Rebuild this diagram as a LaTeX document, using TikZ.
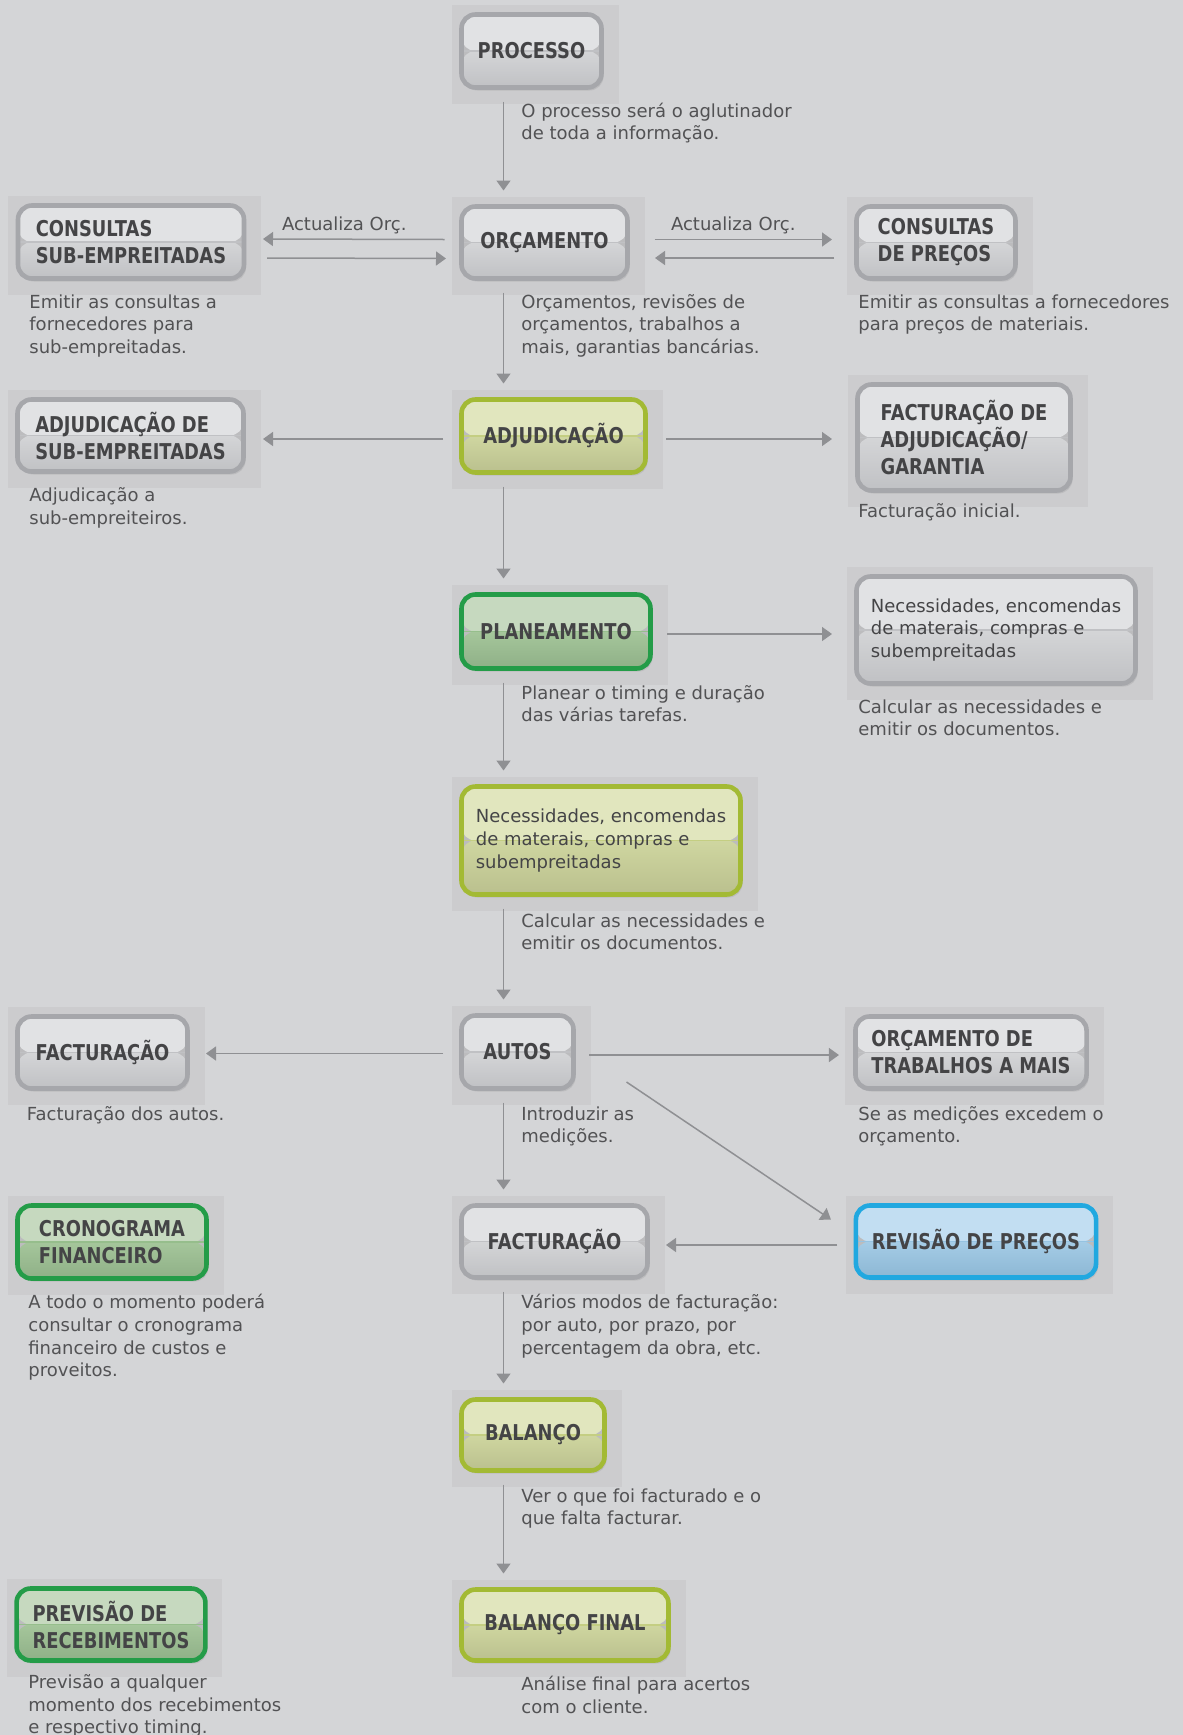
\documentclass[tikz,border=0pt]{standalone}
\usepackage{fontspec}
\setmainfont{DejaVu Sans}
\newfontfamily\headfont[FakeStretch=0.82]{DejaVu Sans}
\usetikzlibrary{arrows.meta, positioning, calc, backgrounds, shadows}
\definecolor{pagegray}{RGB}{212,213,215}
\definecolor{backing}{RGB}{204,204,206}
\definecolor{headtext}{RGB}{68,68,70}
\definecolor{notetext}{RGB}{82,82,84}
\definecolor{arrowgray}{RGB}{143,144,147}
\definecolor{paleedge}{RGB}{166,167,171}
\definecolor{paletop}{RGB}{225,226,228}
\definecolor{palemid}{RGB}{212,213,215}
\definecolor{palebot}{RGB}{192,193,196}
\definecolor{paleline}{RGB}{192,193,196}
\definecolor{oliveedge}{RGB}{163,186,52}
\definecolor{olivetop}{RGB}{225,230,190}
\definecolor{olivemid}{RGB}{207,214,160}
\definecolor{olivebot}{RGB}{186,192,142}
\definecolor{oliveline}{RGB}{196,206,130}
\definecolor{leafedge}{RGB}{36,156,72}
\definecolor{leaftop}{RGB}{198,217,191}
\definecolor{leafmid}{RGB}{165,198,155}
\definecolor{leafbot}{RGB}{143,176,135}
\definecolor{leafline}{RGB}{150,190,140}
\definecolor{skyedge}{RGB}{33,168,224}
\definecolor{skytop}{RGB}{194,222,242}
\definecolor{skymid}{RGB}{165,204,230}
\definecolor{skybot}{RGB}{140,183,212}
\definecolor{skyline}{RGB}{150,195,225}

\begin{document}
\begin{tikzpicture}[
        x=0.5pt, y=-0.5pt,
        box/.style={rectangle, rounded corners=7pt, draw=#1edge, line width=2.3pt, outer sep=0pt,
            inner xsep=8pt, minimum height=36pt, align=left, text=headtext,
            font=\headfont\bfseries\fontsize{10.9}{13.5}\selectfont,
            drop shadow={opacity=.2, shadow xshift=1pt, shadow yshift=-1.5pt},
            path picture={
                \fill[#1top] (path picture bounding box.north west) rectangle (path picture bounding box.east);
                \shade[top color=#1mid, bottom color=#1bot] (path picture bounding box.west) rectangle (path picture bounding box.south east);
                \draw[#1line, line width=.6pt] (path picture bounding box.west) -- (path picture bounding box.east);
            }},
        plain/.style={inner xsep=6pt, font=\normalfont\fontsize{9}{11.3}\selectfont},
        note/.style={anchor=north west, inner sep=0pt, align=left, text=notetext, font=\fontsize{9}{11.3}\selectfont},
        tag/.style={inner sep=0pt, text=notetext, font=\fontsize{9}{11.3}\selectfont},
        arr/.style={draw=arrowgray, line width=.75pt, -{Triangle[length=5pt, width=7pt]}}
    ]
        \useasboundingbox (0,0) rectangle (1183,1735);

        \node[box=pale, minimum width=70pt, minimum height=36.5pt] (processo) at (531.5,51) {PROCESSO};
        \node[box=pale, minimum width=83pt] (orcamento) at (544.5,242.5) {ORÇAMENTO};
        \node[box=pale, minimum width=113pt, minimum height=36.5pt] (conssub) at (131,242) {CONSULTAS\\SUB-EMPREITADAS};
        \node[box=pale, minimum width=79.5pt] (conspreco) at (936,242.5) {CONSULTAS\\DE PREÇOS};
        \node[box=olive, minimum width=92pt, minimum height=36.5pt] (adjudic) at (553.5,436) {ADJUDICAÇÃO};
        \node[box=pale, minimum width=113pt] (adjsub) at (130.5,435.5) {ADJUDICAÇÃO DE\\SUB-EMPREITADAS};
        \node[box=pale, minimum width=106.5pt, minimum height=53pt] (factadj) at (964,437.5) {FACTURAÇÃO DE\\ADJUDICAÇÃO/\\GARANTIA};
        \node[box=leaf, minimum width=94.5pt, minimum height=37pt] (planea) at (556,631.5) {PLANEAMENTO};
        \node[box=pale, plain, minimum width=139.5pt, minimum height=53.5pt] (necessR) at (996,630) {Necessidades, encomendas\\de materais, compras e\\subempreitadas};
        \node[box=olive, plain, minimum width=139.5pt, minimum height=54pt] (necessC) at (601,840.5) {Necessidades, encomendas\\de materais, compras e\\subempreitadas};
        \node[box=pale, minimum width=56pt, minimum height=36.5pt] (autos) at (517.5,1052) {AUTOS};
        \node[box=pale, minimum width=85pt] (factL) at (102.5,1052.5) {FACTURAÇÃO};
        \node[box=pale, minimum width=114.5pt] (orctrab) at (971,1052.5) {ORÇAMENTO DE\\TRABALHOS A MAIS};
        \node[box=sky, minimum width=118.5pt] (revisao) at (976,1241.5) {REVISÃO DE PREÇOS};
        \node[box=pale, minimum width=93pt] (factC) at (554.5,1241.5) {FACTURAÇÃO};
        \node[box=leaf, minimum width=94.5pt, minimum height=36.5pt] (cronog) at (112,1242) {CRONOGRAMA\\FINANCEIRO};
        \node[box=olive, minimum width=71.5pt, minimum height=35.5pt] (balanco) at (533,1435) {BALANÇO};
        \node[box=olive, minimum width=103.5pt, minimum height=35.5pt] (balfinal) at (565,1625) {BALANÇO FINAL};
        \node[box=leaf, minimum width=93.5pt] (previsao) at (111,1624.5) {PREVISÃO DE\\RECEBIMENTOS};

        \node[note] (processonote) at (521,102.5) {O processo será o aglutinador\\de toda a informação.};
        \node[note] (orcamentonote) at (521,294) {Orçamentos, revisões de\\orçamentos, trabalhos a\\mais, garantias bancárias.};
        \node[note] (conssubnote) at (29,294) {Emitir as consultas a\\fornecedores para\\sub-empreitadas.};
        \node[note] (consprecnote) at (858,294) {Emitir as consultas a fornecedores\\para preços de materiais.};
        \node[note] (adjsubnote) at (29,487.5) {Adjudicação a\\sub-empreiteiros.};
        \node[note] (factadjnote) at (858,503) {Facturação inicial.};
        \node[note] (planeanote) at (521,685) {Planear o timing e duração\\das várias tarefas.};
        \node[note] (necessRnote) at (858,699) {Calcular as necessidades e\\emitir os documentos.};
        \node[note] (necessCnote) at (521,913) {Calcular as necessidades e\\emitir os documentos.};
        \node[note] (autosnote) at (521,1106) {Introduzir as\\medições.};
        \node[note] (factLnote) at (26.5,1106) {Facturação dos autos.};
        \node[note] (orctrabnote) at (858,1106) {Se as medições excedem o\\orçamento.};
        \node[note] (factCnote) at (521,1294) {Vários modos de facturação:\\por auto, por prazo, por\\percentagem da obra, etc.};
        \node[note] (cronognote) at (28,1294) {A todo o momento poderá\\consultar o cronograma\\financeiro de custos e\\proveitos.};
        \node[note] (balanconote) at (521,1488) {Ver o que foi facturado e o\\que falta facturar.};
        \node[note] (balfinalnote) at (521,1676) {Análise final para acertos\\com o cliente.};
        \node[note] (previsaonote) at (28,1674) {Previsão a qualquer\\momento dos recebimentos\\e respectivo timing.};

        \draw[arr] ([shift={(42,14)}]processo.south west) -- ([shift={(42,-16)}]orcamento.north west);
        \draw[arr] ([shift={(42,14)}]orcamento.south west) -- ([shift={(42,-16)}]adjudic.north west);
        \draw[arr] ([shift={(42,14)}]adjudic.south west) -- ([shift={(42,-16)}]planea.north west);
        \draw[arr] ([shift={(42,14)}]planea.south west) -- ([shift={(42,-16)}]necessC.north west);
        \draw[arr] ([shift={(42,14)}]necessC.south west) -- ([shift={(42,-16)}]autos.north west);
        \draw[arr] ([shift={(42,14)}]autos.south west) -- ([shift={(42,-16)}]factC.north west);
        \draw[arr] ([shift={(42,14)}]factC.south west) -- ([shift={(42,-16)}]balanco.north west);
        \draw[arr] ([shift={(42,14)}]balanco.south west) -- ([shift={(42,-16)}]balfinal.north west);

        \draw[arr] ([shift={(-17,-3)}]orcamento.west) -- node[tag, above=2.5pt, xshift=-4.75pt] {Actualiza Orç.} ([shift={(19,-3)}]conssub.east);
        \draw[arr] ([shift={(23,16)}]conssub.east) -- ([shift={(-15.5,16)}]orcamento.west);
        \draw[arr] ([shift={(27,-3)}]orcamento.east) -- node[tag, above=2.5pt, xshift=-5pt] {Actualiza Orç.} ([shift={(-24.5,-3)}]conspreco.west);
        \draw[arr] ([shift={(-22.5,15.5)}]conspreco.west) -- ([shift={(27.5,15.5)}]orcamento.east);
        \draw[arr] ([shift={(-18.5,3)}]adjudic.west) -- ([shift={(19.5,3.5)}]adjsub.east);
        \draw[arr] ([shift={(20.5,3)}]adjudic.east) -- ([shift={(-25.5,1.5)}]factadj.west);
        \draw[arr] ([shift={(16.5,2.5)}]planea.east) -- ([shift={(-24.5,4)}]necessR.west);
        \draw[arr] ([shift={(-18.5,1.5)}]autos.west) -- ([shift={(18.5,1)}]factL.east);
        \draw[arr] ([shift={(15.5,3)}]autos.east) -- ([shift={(-16.5,2.5)}]orctrab.west);
        \draw[arr] ([shift={(53,30)}]autos.east) -- ([shift={(-25,14)}]revisao.north west);
        \draw[arr] ([shift={(-18.5,3.5)}]revisao.west) -- ([shift={(18.5,3.5)}]factC.east);

        \begin{scope}[on background layer]
            \fill[pagegray] (0,0) rectangle (1183,1735);
            \foreach \n in {processo, orcamento, conssub, conspreco, adjudic, adjsub, factadj, planea, necessR, necessC, autos, factL, orctrab, revisao, factC, cronog, balanco, balfinal, previsao}
                \fill[backing] ([shift={(-10,-10)}]\n.north west) rectangle ([shift={(17,16)}]\n.south east);
        \end{scope}
    \end{tikzpicture}
\end{document}
